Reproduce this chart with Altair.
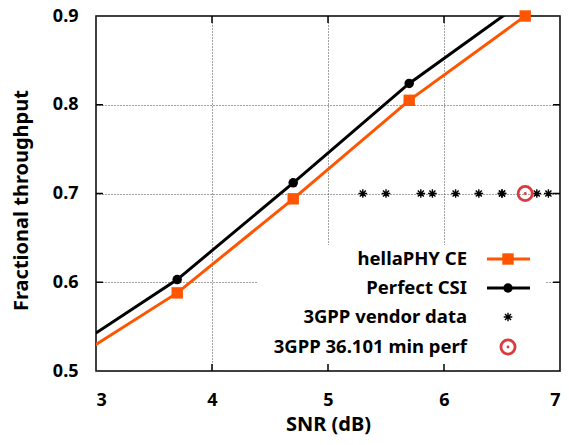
import altair as alt
import pandas as pd

# ---- data ----
snr = [2.7, 3.7, 4.7, 5.7, 6.7]
hellaphy = [0.505, 0.588, 0.694, 0.805, 0.900]
perfect = [0.517, 0.603, 0.712, 0.824, 0.918]
vendor_snr = [5.3, 5.5, 5.8, 5.9, 6.1, 6.3, 6.5, 6.5, 6.8, 6.9]
vendor_tp = [0.7] * len(vendor_snr)
minperf_snr = [6.7]
minperf_tp = [0.7]
x_ticks = [4, 5, 6]
y_ticks = [0.6, 0.7, 0.8]
legend_names = ["hellaPHY CE", "Perfect CSI", "3GPP vendor data", "3GPP 36.101 min perf"]

ORANGE = "#FF5500"
RED = "#DC3A3C"
FONT = "Noto Sans"
FS = 18
W, H = 464, 355
LPAD = 88

df_h = pd.DataFrame({"snr": snr, "tp": hellaphy})
df_p = pd.DataFrame({"snr": snr, "tp": perfect})
df_v = pd.DataFrame({"snr": vendor_snr, "tp": vendor_tp})
df_m = pd.DataFrame({"snr": minperf_snr, "tp": minperf_tp})

xs = alt.Scale(domain=[3, 7], nice=False, zero=False)
ys = alt.Scale(domain=[0.5, 0.9], nice=False, zero=False)

X = alt.X("snr:Q", scale=xs, title="SNR (dB)",
          axis=alt.Axis(values=[3, 4, 5, 6, 7], format="d", labelPadding=20,
                        titlePadding=5, titleFontSize=20))
Y = alt.Y("tp:Q", scale=ys, title="Fractional throughput",
          axis=alt.Axis(values=[0.5, 0.6, 0.7, 0.8, 0.9], format=".1f",
                        labelPadding=18, titleX=-65, titleY=184, titleFontSize=20))

asterisk = "M0,-1L0,1M-1,0L1,0M-0.7,-0.7L0.7,0.7M-0.7,0.7L0.7,-0.7"

inview = "datum.snr >= 3 && datum.snr <= 7 && datum.tp >= 0.5 && datum.tp <= 0.9"

base_grid = alt.Chart(df_h).mark_point(opacity=0).encode(x=X, y=Y)

line_h = alt.Chart(df_h).mark_line(color=ORANGE, strokeWidth=3, clip=True).encode(x=X, y=Y)
pts_h = alt.Chart(df_h).transform_filter(inview).mark_point(
    shape="square", filled=True, color=ORANGE, size=130, opacity=1).encode(x=X, y=Y)
line_p = alt.Chart(df_p).mark_line(color="black", strokeWidth=3, clip=True).encode(x=X, y=Y)
pts_p = alt.Chart(df_p).transform_filter(inview).mark_point(
    shape="circle", filled=True, color="black", size=90, opacity=1).encode(x=X, y=Y)
pts_v = alt.Chart(df_v).mark_point(shape=asterisk, color="black", size=75,
                                   strokeWidth=1.4, opacity=1).encode(x=X, y=Y)
pts_m = alt.Chart(df_m).mark_point(shape="circle", filled=False, color=RED, size=200,
                                   strokeWidth=2.8, opacity=1).encode(x=X, y=Y)
dot_m = alt.Chart(df_m).mark_point(shape="circle", filled=True, color=RED, size=8,
                                   opacity=1).encode(x=X, y=Y)

# inward tick marks on all four sides
dfx = pd.DataFrame({"snr": x_ticks})
dfy = pd.DataFrame({"tp": y_ticks})
tk = dict(color="black", strokeWidth=1.5)
tick_b = alt.Chart(dfx).mark_rule(**tk).encode(x=alt.X("snr:Q", scale=xs), y=alt.value(H - 7), y2=alt.value(H))
tick_t = alt.Chart(dfx).mark_rule(**tk).encode(x=alt.X("snr:Q", scale=xs), y=alt.value(0), y2=alt.value(7))
tick_l = alt.Chart(dfy).mark_rule(**tk).encode(y=alt.Y("tp:Q", scale=ys), x=alt.value(0), x2=alt.value(7))
tick_r = alt.Chart(dfy).mark_rule(**tk).encode(y=alt.Y("tp:Q", scale=ys), x=alt.value(W - 7), x2=alt.value(W))

# opaque key box
bx0 = 258 - 8 - LPAD
box = alt.Chart(pd.DataFrame({"k": [0]})).mark_rect(color="white").encode(
    x=alt.value(bx0), x2=alt.value(bx0 + 288), y=alt.value(229), y2=alt.value(H - 1))

leg_y = [243, 272, 301, 331]
tx = 467 - 8 - LPAD
sx = 508 - 8 - LPAD
legend_layers = []
for name, ly in zip(legend_names, leg_y):
    legend_layers.append(
        alt.Chart(pd.DataFrame({"name": [name]})).mark_text(
            align="right", baseline="middle", font=FONT, fontWeight="bold", fontSize=FS + 0.5,
            color="black").encode(x=alt.value(tx), y=alt.value(ly), text="name:N"))

one = pd.DataFrame({"k": [0]})
leg_line_h = alt.Chart(one).mark_rule(color=ORANGE, strokeWidth=3).encode(
    x=alt.value(sx - 21), x2=alt.value(sx + 22), y=alt.value(leg_y[0]))
leg_pt_h = alt.Chart(one).mark_point(shape="square", filled=True, color=ORANGE, size=130,
                                     opacity=1).encode(x=alt.value(sx), y=alt.value(leg_y[0]))
leg_line_p = alt.Chart(one).mark_rule(color="black", strokeWidth=3).encode(
    x=alt.value(sx - 21), x2=alt.value(sx + 22), y=alt.value(leg_y[1]))
leg_pt_p = alt.Chart(one).mark_point(shape="circle", filled=True, color="black", size=90,
                                     opacity=1).encode(x=alt.value(sx), y=alt.value(leg_y[1]))
leg_pt_v = alt.Chart(one).mark_point(shape=asterisk, color="black", size=75, strokeWidth=1.4,
                                     opacity=1).encode(x=alt.value(sx), y=alt.value(leg_y[2]))
leg_pt_m = alt.Chart(one).mark_point(shape="circle", filled=False, color=RED, size=200,
                                     strokeWidth=2.8, opacity=1).encode(x=alt.value(sx), y=alt.value(leg_y[3]))
leg_dot_m = alt.Chart(one).mark_point(shape="circle", filled=True, color=RED, size=8,
                                      opacity=1).encode(x=alt.value(sx), y=alt.value(leg_y[3]))

chart = alt.layer(
    base_grid, box, tick_b, tick_t, tick_l, tick_r,
    line_h, line_p, pts_v, pts_m, dot_m, pts_h, pts_p,
    *legend_layers, leg_line_h, leg_pt_h, leg_line_p, leg_pt_p, leg_pt_v, leg_pt_m, leg_dot_m,
).properties(
    width=W, height=H,
    autosize=alt.AutoSizeParams(type="none"),
    padding={"left": LPAD, "top": 8, "right": 1, "bottom": 66},
).configure_view(
    stroke="black", strokeWidth=1.5
).configure_axis(
    domain=False, ticks=False, grid=True, gridColor="#444", gridDash=[1, 2], gridWidth=1,
    labelFont=FONT, labelFontWeight="bold", labelFontSize=FS, labelColor="black",
    titleFont=FONT, titleFontWeight="bold", titleFontSize=FS, titleColor="black",
)

chart.save("out.html", embed_options={"renderer": "svg", "actions": False})
